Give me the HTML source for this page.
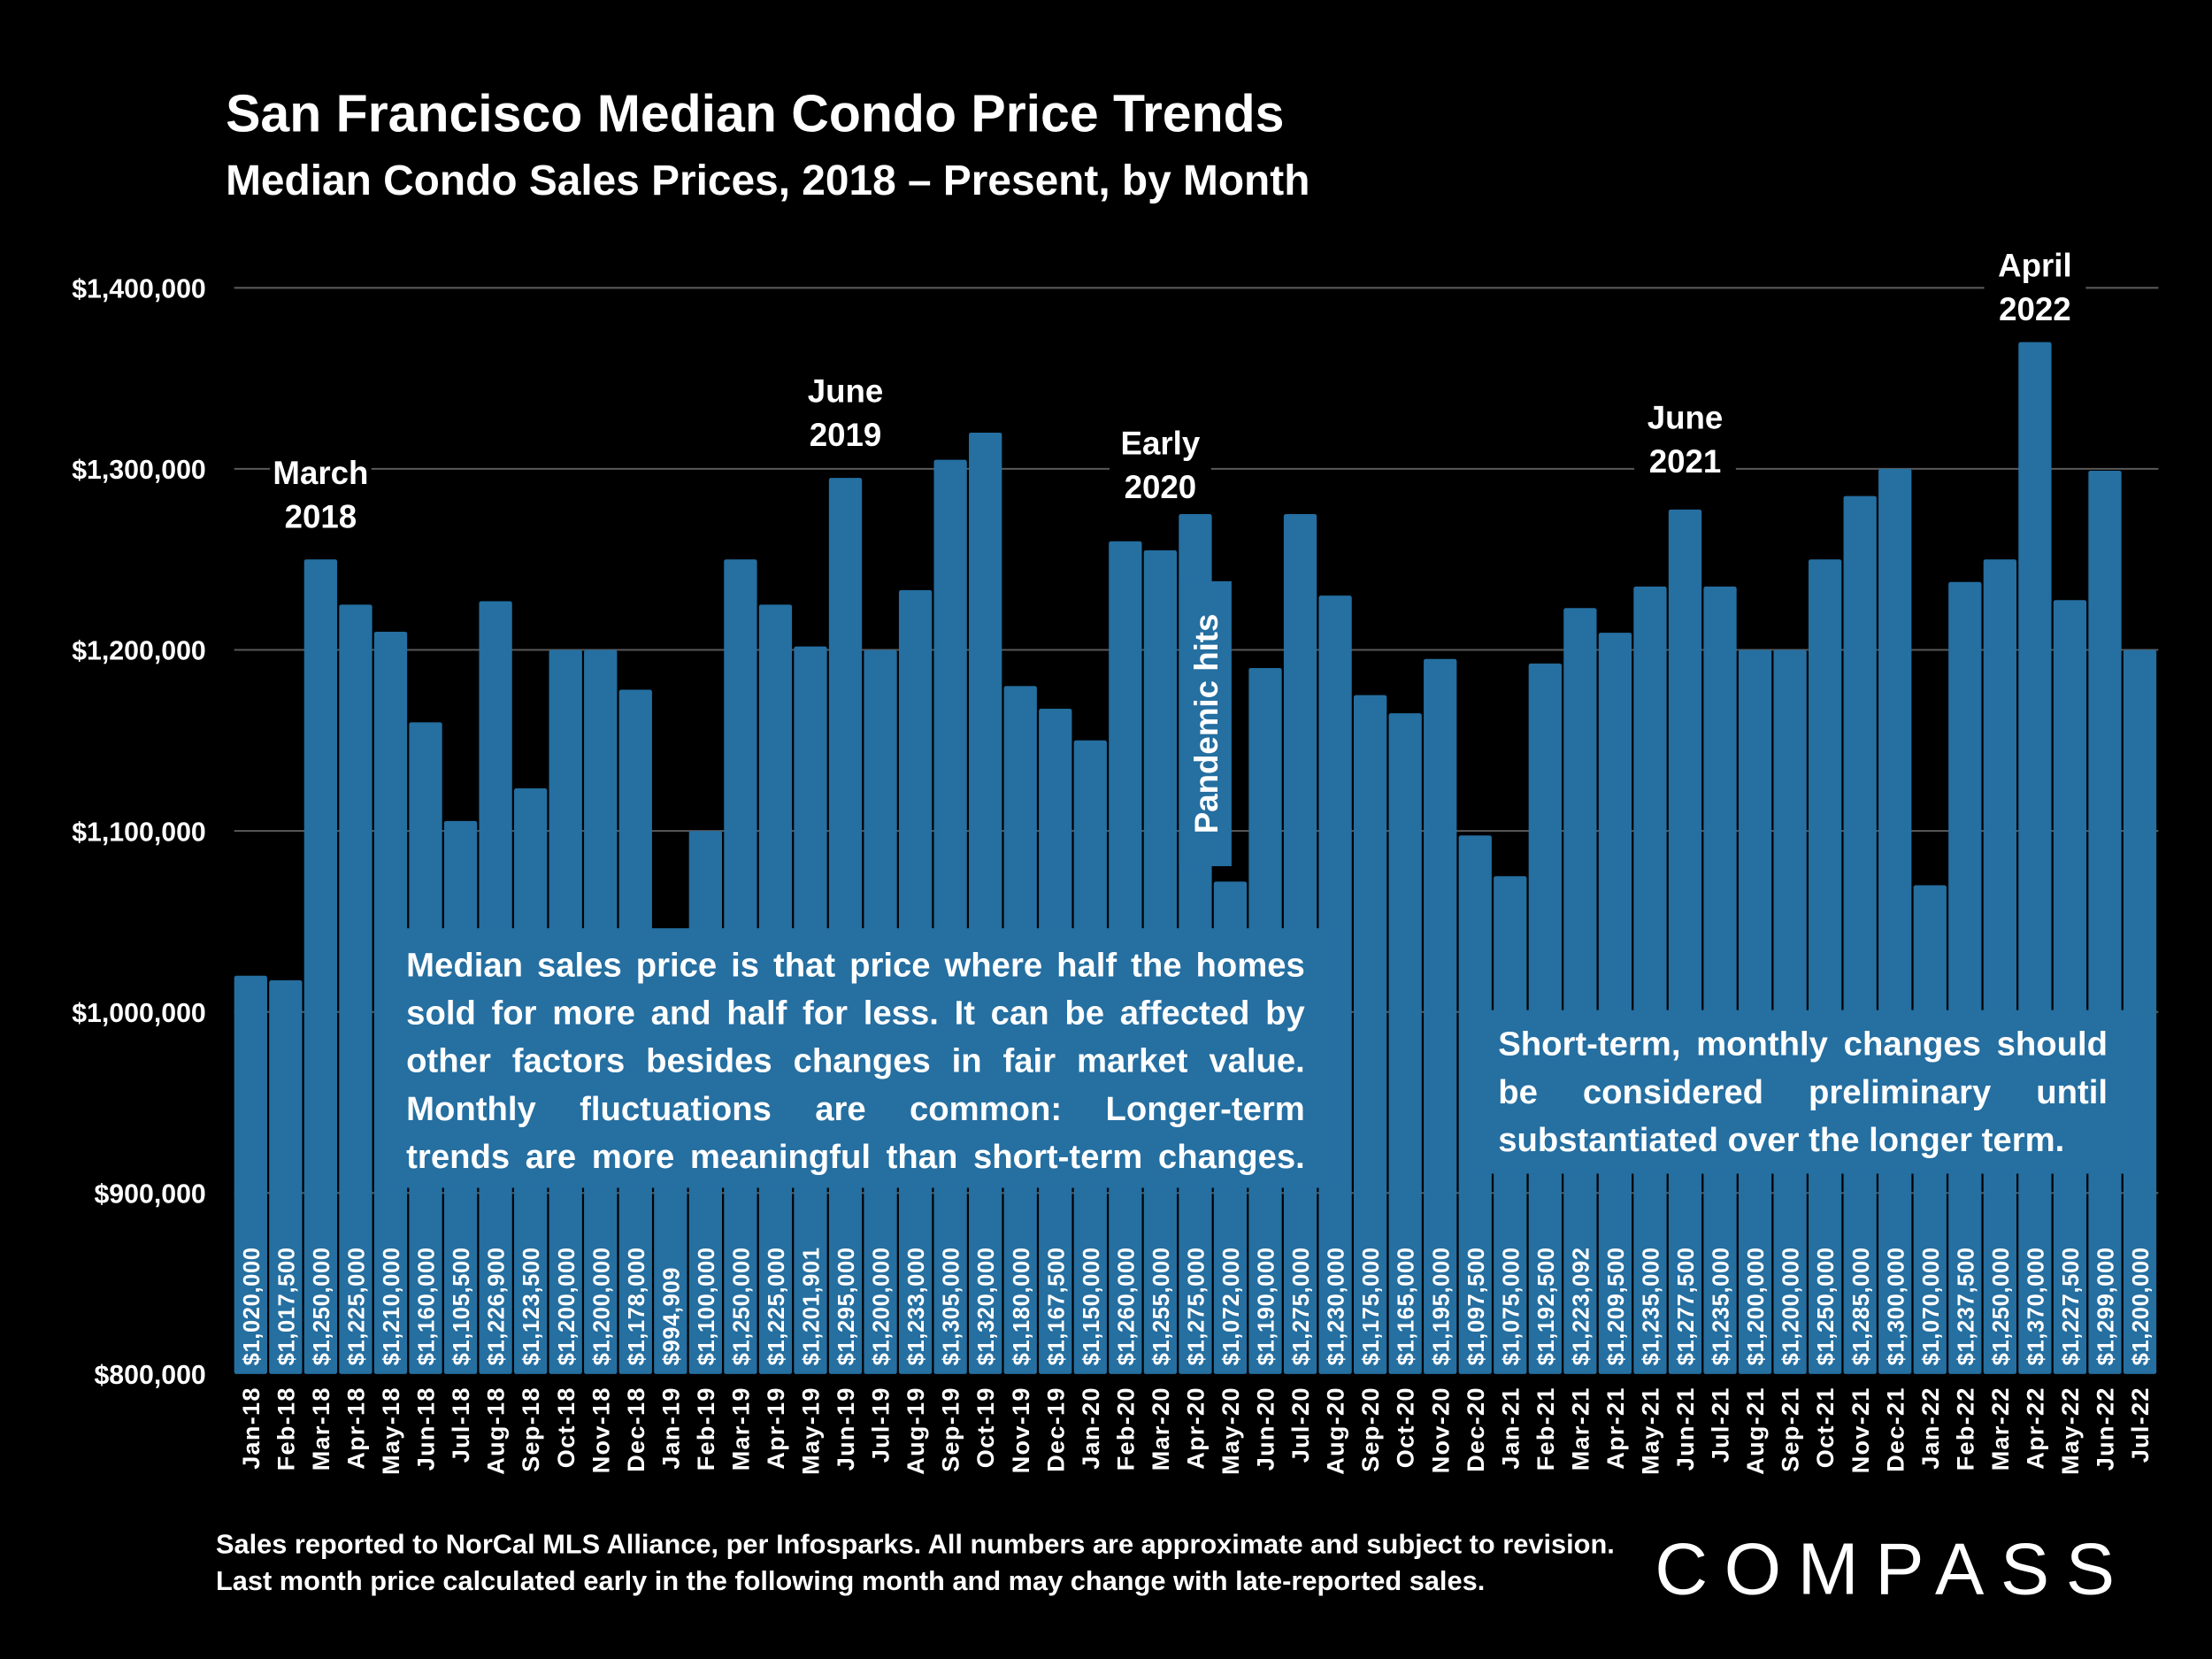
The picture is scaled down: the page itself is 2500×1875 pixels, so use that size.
<!DOCTYPE html>
<html><head><meta charset="utf-8">
<style>
html,body{margin:0;padding:0;background:#000;}
#wrap{width:1568px;height:1176px;transform:scale(1.59439);transform-origin:0 0;position:relative;background:#000;font-family:"Liberation Sans Narrow","Liberation Sans",sans-serif;color:#fff;overflow:hidden}
.box{position:absolute;background:#256fa1;color:#fff;font-weight:bold;font-size:24px;line-height:34px;box-sizing:border-box}
.box span{display:block;text-align:justify;text-align-last:justify;white-space:nowrap}
.box span.l{text-align-last:left}
</style></head><body>
<div id="wrap">
<svg id="svg" width="1568" height="1176" viewBox="0 0 1568 1176" style="position:absolute;left:0;top:0">
<text x="160" y="93" font-size="37" font-weight="bold" fill="#fff" font-family="Liberation Sans Narrow, Liberation Sans, sans-serif">San Francisco Median Condo Price Trends</text>
<text x="160" y="138" font-size="30" font-weight="bold" fill="#fff" font-family="Liberation Sans Narrow, Liberation Sans, sans-serif">Median Condo Sales Prices, 2018 – Present, by Month</text>
<g id="grid"></g><g id="bars"></g><g id="vals"></g><g id="months"></g><g id="ann"></g>
<text x="153" y="1101" font-size="19.3" font-weight="bold" fill="#fff" font-family="Liberation Sans Narrow, Liberation Sans, sans-serif">Sales reported to NorCal MLS Alliance, per Infosparks. All numbers are approximate and subject to revision.</text>
<text x="153" y="1127" font-size="19.3" font-weight="bold" fill="#fff" font-family="Liberation Sans Narrow, Liberation Sans, sans-serif">Last month price calculated early in the following month and may change with late-reported sales.</text>
<text x="1173" y="1130" font-size="52" fill="#fff" letter-spacing="6" font-family="Liberation Sans, sans-serif" textLength="332">COMPASS</text>
</svg>
<div class="box" style="left:268px;top:658px;width:674px;height:184px;padding:10px 17px 0 20px;">
<span>Median sales price is that price where half the homes</span>
<span>sold for more and half for less. It can be affected by</span>
<span>other factors besides changes in fair market value.</span>
<span>Monthly fluctuations are common: Longer-term</span>
<span>trends are more meaningful than short-term changes.</span>
</div>
<div class="box" style="left:1040px;top:716px;width:472px;height:116px;padding:8px 18px 0 22px;">
<span>Short-term, monthly changes should</span>
<span>be considered preliminary until</span>
<span class="l">substantiated over the longer term.</span>
</div>
<div class="box" style="left:837px;top:412px;width:36px;height:202px;">
<div style="position:absolute;left:50%;top:50%;transform:translate(-50%,-50%) rotate(-90deg);white-space:nowrap;font-size:23px;">Pandemic hits</div>
</div>
</div>
<script>
const months=["Jan-18","Feb-18","Mar-18","Apr-18","May-18","Jun-18","Jul-18","Aug-18","Sep-18","Oct-18","Nov-18","Dec-18","Jan-19","Feb-19","Mar-19","Apr-19","May-19","Jun-19","Jul-19","Aug-19","Sep-19","Oct-19","Nov-19","Dec-19","Jan-20","Feb-20","Mar-20","Apr-20","May-20","Jun-20","Jul-20","Aug-20","Sep-20","Oct-20","Nov-20","Dec-20","Jan-21","Feb-21","Mar-21","Apr-21","May-21","Jun-21","Jul-21","Aug-21","Sep-21","Oct-21","Nov-21","Dec-21","Jan-22","Feb-22","Mar-22","Apr-22","May-22","Jun-22","Jul-22"];
const prices=[1020000,1017500,1250000,1225000,1210000,1160000,1105500,1226900,1123500,1200000,1200000,1178000,994909,1100000,1250000,1225000,1201901,1295000,1200000,1233000,1305000,1320000,1180000,1167500,1150000,1260000,1255000,1275000,1072000,1190000,1275000,1230000,1175000,1165000,1195000,1097500,1075000,1192500,1223092,1209500,1235000,1277500,1235000,1200000,1200000,1250000,1285000,1300000,1070000,1237500,1250000,1370000,1227500,1299000,1200000];
const yTicks=[800000,900000,1000000,1100000,1200000,1300000,1400000];
const annLabels=[["March","2018"],["June","2019"],["Early","2020"],["June","2021"],["April","2022"]];
const annIndex=[2,17,26,41,51];
const annValues=[1291700,1336900,1308000,1322100,1406200];
const NS="http://www.w3.org/2000/svg";
const FONT="Liberation Sans Narrow, Liberation Sans, sans-serif";
const x0=166,step=24.8,bw=23.4;
function y(v){return 974-(v-800000)/100000*128.33;}
function xc(i){return x0+i*step+bw/2;}
function mk(tag,attrs,parent){const e=document.createElementNS(NS,tag);for(const k in attrs)e.setAttribute(k,attrs[k]);parent.appendChild(e);return e;}
const fmt=v=>"$"+v.toLocaleString("en-US");
const G=id=>document.getElementById(id);
yTicks.forEach(t=>{
  if(t>800000){const l=mk("line",{x1:166,x2:1530,y1:y(t),y2:y(t),stroke:"#595959","stroke-width":1.3},G("grid"));
  
  }
  const tx=mk("text",{x:146,y:y(t)+7,"text-anchor":"end","font-size":19,"font-weight":"bold",fill:"#fff","font-family":FONT},G("grid"));
  tx.textContent=fmt(t);
  
  
});
prices.forEach((v,i)=>{
  const top=Math.min(y(v),974);
  const r=mk("rect",{x:x0+i*step,y:top,width:bw,height:974-top,fill:"#256fa1",rx:1.5},G("bars"));
  
  
  const t=mk("text",{transform:`translate(${xc(i)+6},968) rotate(-90)`,"font-size":16,"font-weight":"bold",fill:"#fff","font-family":FONT,"letter-spacing":0.4},G("vals"));
  t.textContent=fmt(v);
  
  
  const m=mk("text",{transform:`translate(${xc(i)+6},983) rotate(-90)`,"text-anchor":"end","font-size":17,"font-weight":"bold",fill:"#fff","font-family":FONT,"letter-spacing":0.8},G("months"));
  m.textContent=months[i];
  
  
});
annLabels.forEach((lab,k)=>{
  const cx=xc(annIndex[k]),ty=y(annValues[k]);
  const bg=mk("rect",{x:cx-36,y:ty-32,width:72,height:68,fill:"#000"},G("ann"));
  
  
  lab.forEach((s,j)=>{
    const t=mk("text",{x:cx,y:ty+j*31,"text-anchor":"middle","font-size":23,"font-weight":"bold",fill:"#fff","font-family":FONT},G("ann"));
    t.textContent=s;
    
    
  });
});
</script>
</body></html>
